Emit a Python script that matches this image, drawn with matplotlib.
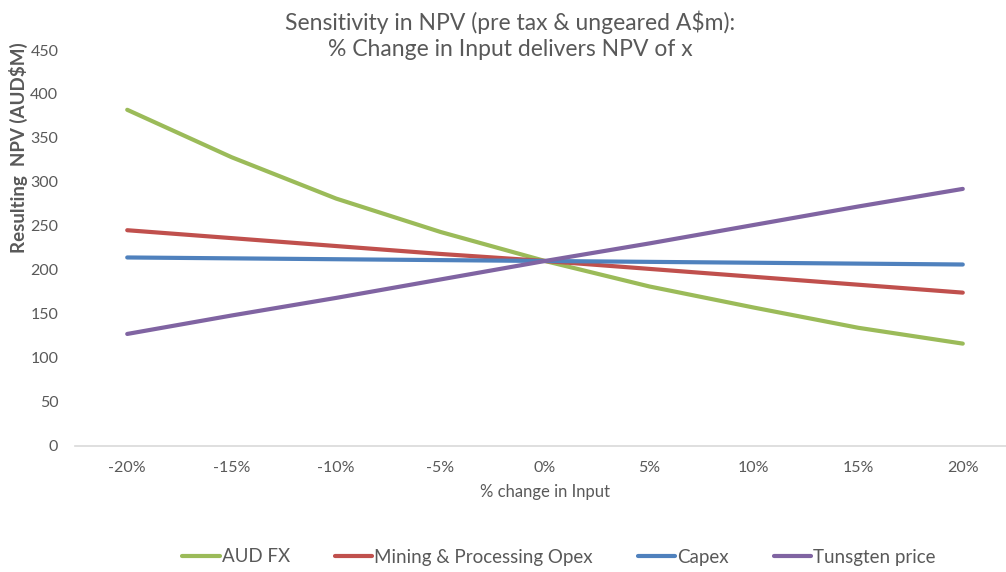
import matplotlib.pyplot as plt
import numpy as np

# sensitivity of NPV to +/- change in each input
pct_labels = ['-20%', '-15%', '-10%', '-5%', '0%', '5%', '10%', '15%', '20%']
aud_fx = [382, 328, 281, 243, 210, 181, 157, 134, 116]
opex = [245, 236, 227, 218, 210, 201, 192, 183, 174]
capex = [214, 213, 212, 211, 210, 209, 208, 207, 206]
tungsten = [127, 148, 168, 189, 210, 230, 251, 272, 292]

plt.rcParams['font.family'] = ['Lato', 'DejaVu Sans']
grey = '#595959'

fig = plt.figure(figsize=(10.06, 5.72), dpi=100)
ax = fig.add_axes([75/1006, (572-445.6)/572, 940/1006, (445.6-50)/572])

x = np.arange(len(pct_labels))
ax.plot(x, aud_fx, color='#9bbb59', lw=3, label='AUD FX', solid_capstyle='round')
ax.plot(x, opex, color='#c0504d', lw=3, label='Mining & Processing Opex', solid_capstyle='round')
ax.plot(x, capex, color='#4f81bd', lw=3, label='Capex', solid_capstyle='round')
ax.plot(x, tungsten, color='#8064a2', lw=3, label='Tunsgten price', solid_capstyle='round')

ax.set_xlim(-0.5, 8.5)
ax.set_ylim(0, 450)
ax.set_yticks(range(0, 451, 50))
ax.set_xticks(x)
ax.set_xticklabels(pct_labels)
ax.tick_params(length=0, colors=grey, labelsize=11.5)
ax.tick_params(axis='y', pad=12)
ax.tick_params(axis='x', pad=11)
for s in ['top', 'right', 'left']:
    ax.spines[s].set_visible(False)
ax.spines['bottom'].set_color('#d9d9d9')
ax.spines['bottom'].set_linewidth(1.2)

fig.text(510/1006, 1 - 35/572, 'Sensitivity in NPV (pre tax & ungeared A$m):\n% Change in Input delivers NPV of x',
         ha='center', va='center', fontsize=16.5, color=grey, linespacing=1.3)
fig.text(18/1006, 1 - 148/572, 'Resulting  NPV (AUD$M)', rotation=90, ha='center', va='center',
         fontsize=13.5, fontweight='bold', color=grey)
fig.text(545/1006, 1 - 492/572, '% change in Input', ha='center', va='center', fontsize=12, color=grey)

leg = fig.legend(loc='center', bbox_to_anchor=(559/1006, 1 - 557/572), ncol=4, frameon=False,
                 fontsize=13.5, handlelength=2.0, handletextpad=0.1, columnspacing=2.4)
for t in leg.get_texts():
    t.set_color(grey)

plt.savefig('out.png', dpi=100)
